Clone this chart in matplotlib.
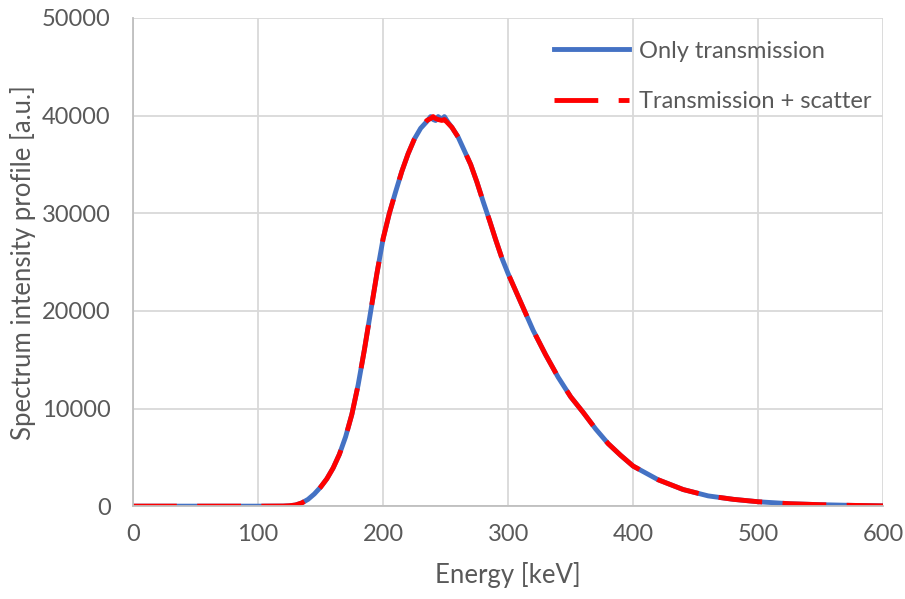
import numpy as np
import matplotlib
matplotlib.use("Agg")
from matplotlib import pyplot as plt

# spectrum (energy in keV, intensity in a.u.)
energy = [0, 25, 50, 75, 100, 120, 125, 130, 135, 140, 145, 150, 155, 160, 165, 170, 175,
          180, 185, 190, 195, 200, 205, 210, 215, 220, 225, 230, 235, 238, 240, 242, 244,
          247, 249, 252, 255, 260, 265, 270, 275, 280, 285, 290, 295, 300, 310, 320, 330,
          340, 350, 360, 370, 380, 390, 400, 420, 440, 460, 480, 500, 525, 550, 575, 600]
only_transmission = [0, 0, 0, 0, 0, 10, 40, 120, 330, 700, 1250, 1950, 2800, 3900, 5300, 7100, 9400,
                     12400, 16000, 19900, 23800, 27400, 30000, 32200, 34300, 36100, 37600, 38700, 39400, 39900, 39600, 39500, 39900,
                     39600, 39900, 39300, 38800, 37800, 36400, 35000, 33200, 31200, 29300, 27300, 25400, 23800, 20900, 18000, 15500,
                     13200, 11200, 9600, 7900, 6400, 5200, 4100, 2700, 1700, 1050, 700, 450, 250, 150, 80, 30]
transmission_scatter = [0, 0, 0, 0, 0, 10, 40, 120, 330, 700, 1250, 1950, 2800, 3900, 5300, 7100, 9400,
                        12400, 16000, 19900, 23800, 27400, 30000, 32200, 34300, 36100, 37600, 38800, 39500, 39700, 39900, 39700, 39600,
                        39500, 39600, 39200, 38800, 37800, 36400, 35000, 33200, 31200, 29300, 27300, 25400, 23800, 20900, 18000, 15500,
                        13200, 11200, 9600, 7900, 6400, 5200, 4100, 2700, 1700, 1050, 700, 450, 250, 150, 80, 30]

x_ticks = [0, 100, 200, 300, 400, 500, 600]
y_ticks = [0, 10000, 20000, 30000, 40000, 50000]

plt.rcParams['font.family'] = ['Lato', 'DejaVu Sans']
text_grey = '#595959'

fig = plt.figure(figsize=(9.05, 5.99), dpi=100)
ax = fig.add_axes([0.147, 0.155, 0.829, 0.815])

ax.plot(energy, only_transmission, color='#4472C4', linewidth=3.5, label='Only transmission')
ax.plot(energy, transmission_scatter, color='#FF0000', linewidth=3.5, label='Transmission + scatter',
        dashes=(9, 4.2))

ax.set_xlim(0, 600)
ax.set_ylim(0, 50000)
ax.set_xticks(x_ticks)
ax.set_yticks(y_ticks)
ax.grid(color='#d9d9d9', linewidth=1.3)
ax.set_axisbelow(True)
for side in ['top', 'right']:
    ax.spines[side].set_visible(False)
for side in ['left', 'bottom']:
    ax.spines[side].set_color('#bfbfbf')
    ax.spines[side].set_linewidth(1.3)
ax.tick_params(length=0, labelsize=17, labelcolor=text_grey)
ax.tick_params(axis='x', pad=13)
ax.tick_params(axis='y', pad=16)

ax.set_xlabel('Energy [keV]', fontsize=18.5, color=text_grey, labelpad=12)
ax.set_ylabel('Spectrum intensity profile [a.u.]', fontsize=18.5, color=text_grey, labelpad=4)

ax.legend(loc='upper right', bbox_to_anchor=(1.012, 0.997), frameon=False, fontsize=17,
          labelcolor=text_grey, handlelength=3.2, handletextpad=0.4, labelspacing=1.25)

plt.savefig('out.png', dpi=100)
